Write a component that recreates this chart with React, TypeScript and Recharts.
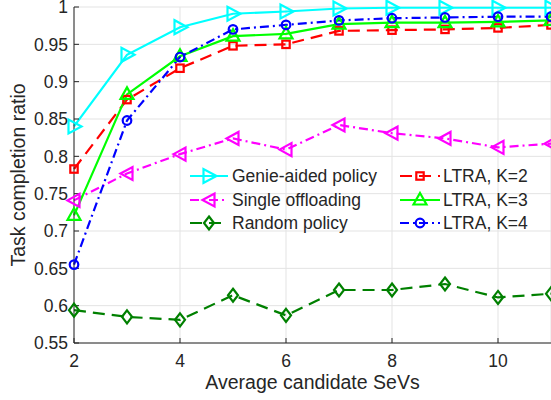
import React from 'react';
import { LineChart, Line, XAxis, YAxis, CartesianGrid, Legend, Label } from 'recharts';

const candidates = [2, 3, 4, 5, 6, 7, 8, 9, 10, 11];
const genie = [0.84, 0.936, 0.973, 0.991, 0.994, 0.998, 0.999, 0.999, 0.999, 0.999];
const single = [0.741, 0.777, 0.803, 0.824, 0.809, 0.842, 0.831, 0.824, 0.812, 0.817];
const randomPolicy = [0.594, 0.585, 0.581, 0.614, 0.587, 0.621, 0.621, 0.629, 0.611, 0.616];
const ltraK2 = [0.783, 0.876, 0.918, 0.948, 0.95, 0.968, 0.969, 0.97, 0.972, 0.976];
const ltraK3 = [0.721, 0.883, 0.934, 0.961, 0.964, 0.977, 0.979, 0.979, 0.98, 0.982];
const ltraK4 = [0.655, 0.848, 0.933, 0.97, 0.976, 0.982, 0.985, 0.986, 0.987, 0.987];

const xTicks = [2, 4, 6, 8, 10];
const yTicks = [0.55, 0.6, 0.65, 0.7, 0.75, 0.8, 0.85, 0.9, 0.95, 1];
const seriesNames = ['Genie-aided policy', 'Single offloading', 'Random policy', 'LTRA, K=2', 'LTRA, K=3', 'LTRA, K=4'];

const data = candidates.map((c, i) => ({
  x: c,
  genie: genie[i],
  single: single[i],
  random: randomPolicy[i],
  k2: ltraK2[i],
  k3: ltraK3[i],
  k4: ltraK4[i],
}));

type Shape = 'right' | 'left' | 'diamond' | 'square' | 'up' | 'circle';

const series: { key: string; name: string; color: string; dash?: string; shape: Shape }[] = [
  { key: 'genie', name: seriesNames[0], color: '#00ffff', shape: 'right' },
  { key: 'single', name: seriesNames[1], color: '#ff00ff', dash: '9 4 2 4', shape: 'left' },
  { key: 'random', name: seriesNames[2], color: '#008000', dash: '12 7', shape: 'diamond' },
  { key: 'k2', name: seriesNames[3], color: '#ff0000', dash: '12 7', shape: 'square' },
  { key: 'k3', name: seriesNames[4], color: '#00ff00', shape: 'up' },
  { key: 'k4', name: seriesNames[5], color: '#0000ff', dash: '9 4 2 4', shape: 'circle' },
];

const FONT = '"Liberation Sans", Arial, Helvetica, sans-serif';
const TEXT = '#262626';

function MarkerShape({ shape, cx, cy, color }: { shape: Shape; cx: number; cy: number; color: string }) {
  const common = { fill: 'none', stroke: color, strokeWidth: 2.2 };
  switch (shape) {
    case 'right':
      return <path d={`M${cx + 7.5},${cy} L${cx - 5.5},${cy - 7} L${cx - 5.5},${cy + 7} Z`} {...common} />;
    case 'left':
      return <path d={`M${cx - 6.5},${cy} L${cx + 5.5},${cy - 6.5} L${cx + 5.5},${cy + 6.5} Z`} {...common} />;
    case 'diamond':
      return <path d={`M${cx},${cy - 6.5} L${cx + 5},${cy} L${cx},${cy + 6.5} L${cx - 5},${cy} Z`} {...common} />;
    case 'square':
      return <rect x={cx - 3.7} y={cy - 3.7} width={7.4} height={7.4} {...common} />;
    case 'up':
      return <path d={`M${cx},${cy - 7} L${cx + 6.5},${cy + 4.5} L${cx - 6.5},${cy + 4.5} Z`} {...common} />;
    default:
      return <circle cx={cx} cy={cy} r={4.3} {...common} />;
  }
}

const makeDot = (shape: Shape, color: string) => (props: any) => {
  const { cx, cy, index } = props;
  if (cx == null || cy == null) return <g key={`${shape}-${index}`} />;
  return (
    <g key={`${shape}-${index}`}>
      <MarkerShape shape={shape} cx={cx} cy={cy} color={color} />
    </g>
  );
};

function LegendContent() {
  const rows = [16, 40, 63];
  const cols = [
    { x1: 10, x2: 48, m: 29, t: 52 },
    { x1: 220, x2: 260, m: 240, t: 263 },
  ];
  return (
    <svg width={370} height={90} style={{ overflow: 'visible', display: 'block' }}>
      {series.map((s, i) => {
        const col = cols[Math.floor(i / 3)];
        const y = rows[i % 3];
        return (
          <g key={s.key}>
            <line x1={col.x1} x2={col.x2} y1={y} y2={y} stroke={s.color} strokeWidth={2.2} strokeDasharray={s.dash} />
            <MarkerShape shape={s.shape} cx={col.m} cy={y} color={s.color} />
            <text x={col.t} y={y} dominantBaseline="central" fontSize={17.5} fill={TEXT} fontFamily={FONT}>
              {s.name}
            </text>
          </g>
        );
      })}
    </svg>
  );
}

const fmt = (v: number) => String(Number(v.toFixed(2)));

export default function App() {
  return (
    <div style={{ position: 'absolute', left: 0, top: 0, width: 551, height: 400, background: '#fff' }}>
      <LineChart width={551} height={400} data={data} margin={{ top: 7, right: 0, bottom: 0, left: 0 }} style={{ fontFamily: FONT }}>
        <CartesianGrid stroke="#e3e3e3" strokeWidth={1} />
        <XAxis
          dataKey="x"
          type="number"
          domain={[2, 11]}
          ticks={xTicks}
          height={57}
          tickSize={-5}
          tickMargin={16.5}
          stroke={TEXT}
          tick={{ fill: TEXT, fontSize: 17.5, fontFamily: FONT }}
          interval={0}
        >
          <Label value="Average candidate SeVs" position="insideBottom" offset={11} fill={TEXT} fontSize={19.5} fontFamily={FONT} />
        </XAxis>
        <XAxis
          xAxisId="top"
          orientation="top"
          type="number"
          domain={[2, 11]}
          ticks={xTicks}
          height={0}
          tickSize={-5}
          stroke={TEXT}
          tickFormatter={() => ''}
        />
        <YAxis
          type="number"
          domain={[0.55, 1]}
          ticks={yTicks}
          width={74}
          tickSize={-5}
          tickMargin={11}
          stroke={TEXT}
          tickFormatter={fmt}
          tick={{ fill: TEXT, fontSize: 17.5, fontFamily: FONT }}
          interval={0}
        >
          <Label
            content={(p: any) => {
              const vb = p.viewBox || { y: 7, height: 336 };
              const cy = vb.y + vb.height / 2;
              return (
                <text x={25} y={cy} transform={`rotate(-90, 25, ${cy})`} textAnchor="middle" fill={TEXT} fontSize={19.5} fontFamily={FONT}>
                  Task completion ratio
                </text>
              );
            }}
          />
        </YAxis>
        <YAxis
          yAxisId="right"
          orientation="right"
          type="number"
          domain={[0.55, 1]}
          ticks={yTicks}
          width={0}
          tickSize={-5}
          stroke={TEXT}
          tickFormatter={() => ''}
          interval={0}
        />
        <Legend
          layout="horizontal"
          verticalAlign="middle"
          align="center"
          content={() => <LegendContent />}
          wrapperStyle={{ position: 'absolute', left: 180, top: 160, width: 370, height: 90 }}
        />
        {series.map((s) => (
          <Line
            key={s.key}
            dataKey={s.key}
            name={s.name}
            stroke={s.color}
            strokeWidth={2.2}
            strokeDasharray={s.dash}
            dot={makeDot(s.shape, s.color)}
            activeDot={false}
            isAnimationActive={false}
            type="linear"
          />
        ))}
      </LineChart>
    </div>
  );
}
